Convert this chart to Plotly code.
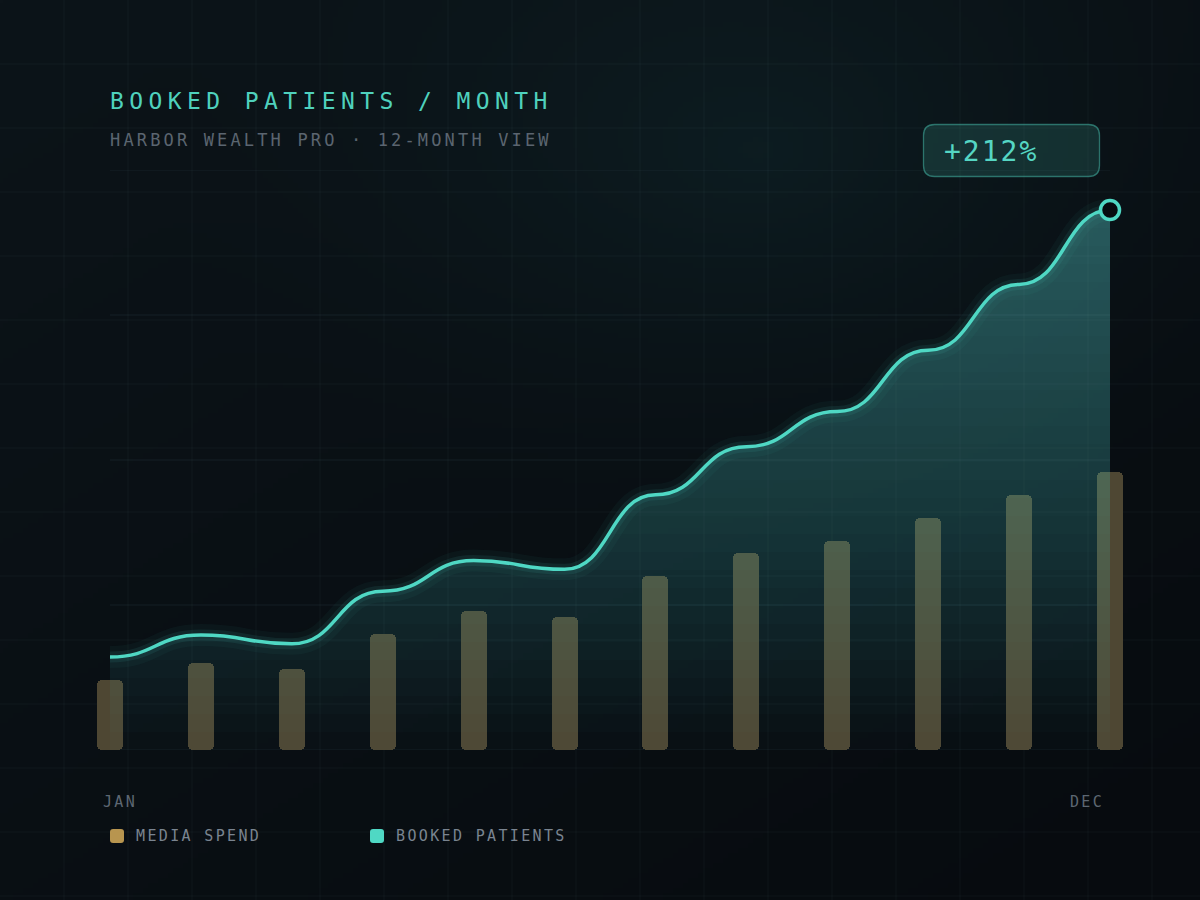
import base64
import struct
import zlib

import numpy as np
import plotly.graph_objects as go

# ---------------- data ----------------
months = ["JAN", "FEB", "MAR", "APR", "MAY", "JUN",
          "JUL", "AUG", "SEP", "OCT", "NOV", "DEC"]
booked_patients = [48, 53, 51, 63, 70, 68, 85, 96, 104, 118, 133, 150]
media_spend = [12, 15, 14, 20, 24, 23, 30, 34, 36, 40, 44, 48]

title_text = "BOOKED PATIENTS / MONTH"
subtitle_text = "HARBOR WEALTH PRO · 12-MONTH VIEW"
legend_labels = ["MEDIA SPEND", "BOOKED PATIENTS"]

# ---------------- style ----------------
W, H = 1200, 900
TEAL = "#4fd8c4"
GOLD = "#b8954f"
BAR = "#4e4733"
FONT = "DejaVu Sans Mono"

x_idx = list(range(len(months)))
growth = int((booked_patients[-1] / booked_patients[0] - 1) * 100)


def px(x):
    return x / W


def py(y):
    return 1 - y / H


def spaced(text, ls):
    return f'<span style="letter-spacing:{ls}px">{text}</span>'


# ---------------- background gradient image ----------------
def make_bg(w=240, h=180):
    yy, xx = np.mgrid[0:h, 0:w].astype(float)
    fx, fy = xx / (w - 1), yy / (h - 1)
    t = (fx * 0.45 + fy * 0.55)
    c0 = np.array([12, 20, 25], float)
    c1 = np.array([7, 11, 15], float)
    img = c0[None, None, :] * (1 - t[..., None]) + c1[None, None, :] * t[..., None]
    gx, gy = fx * W, fy * H
    d = np.sqrt(((gx - 760) / 620) ** 2 + ((gy - 150) / 420) ** 2)
    g = np.clip(1 - d, 0, 1) ** 1.6
    img += g[..., None] * np.array([3, 12, 12], float)
    img = np.clip(img, 0, 255).astype(np.uint8)
    raw = b"".join(b"\x00" + img[r].tobytes() for r in range(h))

    def chunk(tag, data):
        return (struct.pack(">I", len(data)) + tag + data
                + struct.pack(">I", zlib.crc32(tag + data) & 0xFFFFFFFF))

    png = (b"\x89PNG\r\n\x1a\n"
           + chunk(b"IHDR", struct.pack(">IIBBBBB", w, h, 8, 2, 0, 0, 0))
           + chunk(b"IDAT", zlib.compress(raw, 9))
           + chunk(b"IEND", b""))
    return "data:image/png;base64," + base64.b64encode(png).decode()


# ---------------- axes geometry ----------------
unit = 1000 / 11
x_lo = -110 / unit
x_hi = (W - 110) / unit
d0, d1 = py(750), py(170)
pat_k = (657 - 210) / (booked_patients[-1] - booked_patients[0])
pat_lo = booked_patients[0] - (750 - 657) / pat_k
pat_hi = pat_lo + 580 / pat_k
spend_range = [0, 100]


# smooth "bump" curve through the data (horizontal tangents at each month)
def curve_path(xs, ys):
    p = f"M{xs[0]},{ys[0]}"
    for i in range(1, len(xs)):
        xm = (xs[i - 1] + xs[i]) / 2
        p += f" C{xm},{ys[i - 1]} {xm},{ys[i]} {xs[i]},{ys[i]}"
    return p


line_path = curve_path(x_idx, booked_patients)
area_path = line_path + f" L{x_idx[-1]},{pat_lo} L{x_idx[0]},{pat_lo} Z"

fig = go.Figure()

# bars on the spend axis: body (rounded top) + foot (rounded bottom)
bar_w = 26 / unit
foot = 2
fig.add_trace(go.Bar(
    x=x_idx, y=[v - foot / 2 for v in media_spend], base=[foot / 2] * len(media_spend),
    width=bar_w, marker=dict(color=BAR, cornerradius=5, line=dict(width=0)),
    name="Media spend", showlegend=False, xaxis="x", yaxis="y2",
    hoverinfo="skip"))
fig.add_trace(go.Bar(
    x=x_idx, y=[-foot] * len(media_spend), base=[foot] * len(media_spend),
    width=bar_w, marker=dict(color=BAR, cornerradius=5, line=dict(width=0)),
    showlegend=False, xaxis="x", yaxis="y2", hoverinfo="skip"))

shapes = []
# page grid (64px)
for gx in range(64, W, 64):
    shapes.append(dict(type="line", xref="paper", yref="paper",
                       x0=px(gx), x1=px(gx), y0=0, y1=1,
                       line=dict(color="rgba(140,190,200,0.055)", width=1),
                       layer="below"))
for gy in range(64, H, 64):
    shapes.append(dict(type="line", xref="paper", yref="paper",
                       x0=0, x1=1, y0=py(gy), y1=py(gy),
                       line=dict(color="rgba(140,190,200,0.055)", width=1),
                       layer="below"))
# chart gridlines
for v in np.linspace(spend_range[0], spend_range[1], 5):
    shapes.append(dict(type="line", xref="x", yref="y2",
                       x0=x_idx[0], x1=x_idx[-1], y0=v, y1=v,
                       line=dict(color="rgba(140,190,200,0.09)", width=1.2),
                       layer="below"))

# gradient area fill: stacked translucent copies, each clipped above a level
K = 30
delta = 1 - (1 - 0.42) ** (1 / K)
top_val = max(booked_patients)
extra_axes = {}
for k in range(K):
    level = pat_lo + (top_val - pat_lo) * k / K
    f = (level - pat_lo) / (pat_hi - pat_lo)
    n = 3 + k
    extra_axes[f"yaxis{n}"] = dict(domain=[d0 + f * (d1 - d0), d1],
                                   range=[level, pat_hi], anchor="x",
                                   visible=False, fixedrange=True)
    shapes.append(dict(type="path", xref="x", yref=f"y{n}", path=area_path,
                       fillcolor=f"rgba(79,216,196,{delta:.4f})",
                       line=dict(width=0), layer="below"))

# glow + line + end marker
for w_, a_ in [(22, 0.045), (11, 0.09)]:
    shapes.append(dict(type="path", xref="x", yref="y", path=line_path,
                       line=dict(color=f"rgba(79,216,196,{a_})", width=w_),
                       layer="above"))
shapes.append(dict(type="path", xref="x", yref="y", path=line_path,
                   line=dict(color=TEAL, width=3.5), layer="above"))
shapes.append(dict(type="circle", xref="x", yref="y",
                   xsizemode="pixel", ysizemode="pixel",
                   xanchor=x_idx[-1], yanchor=booked_patients[-1],
                   x0=-9.5, x1=9.5, y0=-9.5, y1=9.5,
                   fillcolor="#070c10", line=dict(color=TEAL, width=3.5),
                   layer="above"))


def rounded_rect(x0, y0, x1, y1, r):
    rx, ry = r / W, r / H
    X0, X1 = px(x0), px(x1)
    Y0, Y1 = py(y0), py(y1)
    return (f"M{X0 + rx},{Y0} L{X1 - rx},{Y0} Q{X1},{Y0} {X1},{Y0 - ry} "
            f"L{X1},{Y1 + ry} Q{X1},{Y1} {X1 - rx},{Y1} "
            f"L{X0 + rx},{Y1} Q{X0},{Y1} {X0},{Y1 + ry} "
            f"L{X0},{Y0 - ry} Q{X0},{Y0} {X0 + rx},{Y0} Z")


shapes.append(dict(type="path", xref="paper", yref="paper",
                   path=rounded_rect(923.5, 124.5, 1099.5, 176.5, 11),
                   fillcolor="rgba(79,216,196,0.15)",
                   line=dict(color="rgba(79,216,196,0.45)", width=1.3)))
shapes.append(dict(type="path", xref="paper", yref="paper",
                   path=rounded_rect(110, 829, 124, 843, 3),
                   fillcolor=GOLD, line=dict(width=0)))
shapes.append(dict(type="path", xref="paper", yref="paper",
                   path=rounded_rect(370, 829, 384, 843, 3),
                   fillcolor=TEAL, line=dict(width=0)))

annotations = [
    dict(text=spaced(title_text, 5.4), x=px(108), y=py(101),
         font=dict(family=FONT, size=23, color="#4fd1bd")),
    dict(text=spaced(subtitle_text, 3.15), x=px(108), y=py(140),
         font=dict(family=FONT, size=17, color="#5b6570")),
    dict(text=spaced(f"+{growth}%", 2), x=px(942), y=py(151),
         font=dict(family=FONT, size=28, color="#55d6c3")),
    dict(text=spaced(months[0], 2.3), x=px(101), y=py(802),
         font=dict(family=FONT, size=15, color="#5d6772")),
    dict(text=spaced(months[-1], 2.3), x=px(1068), y=py(802),
         font=dict(family=FONT, size=15, color="#5d6772")),
    dict(text=spaced(legend_labels[0], 2.35), x=px(134), y=py(836),
         font=dict(family=FONT, size=15, color="#7a8490")),
    dict(text=spaced(legend_labels[1], 2.35), x=px(394), y=py(836),
         font=dict(family=FONT, size=15, color="#7a8490")),
]
for a in annotations:
    a.update(xref="paper", yref="paper", xanchor="left", yanchor="middle",
             showarrow=False)

fig.update_layout(
    width=W, height=H,
    margin=dict(l=0, r=0, t=0, b=0),
    paper_bgcolor="#0a1116", plot_bgcolor="rgba(0,0,0,0)",
    barmode="overlay", bargap=0, bargroupgap=0,
    showlegend=False,
    xaxis=dict(domain=[0, 1], range=[x_lo, x_hi], visible=False, fixedrange=True),
    yaxis=dict(domain=[d0, d1], range=[pat_lo, pat_hi], visible=False, fixedrange=True),
    yaxis2=dict(overlaying="y", range=spend_range, visible=False, fixedrange=True),
    shapes=shapes, annotations=annotations,
    images=[dict(source=make_bg(), xref="paper", yref="paper", x=0, y=1,
                 sizex=1, sizey=1, xanchor="left", yanchor="top",
                 sizing="stretch", layer="below")],
    **extra_axes,
)

fig.write_html("out.html", config={"displayModeBar": False},
               post_script="document.body.style.margin='0';document.body.style.overflow='hidden';")
